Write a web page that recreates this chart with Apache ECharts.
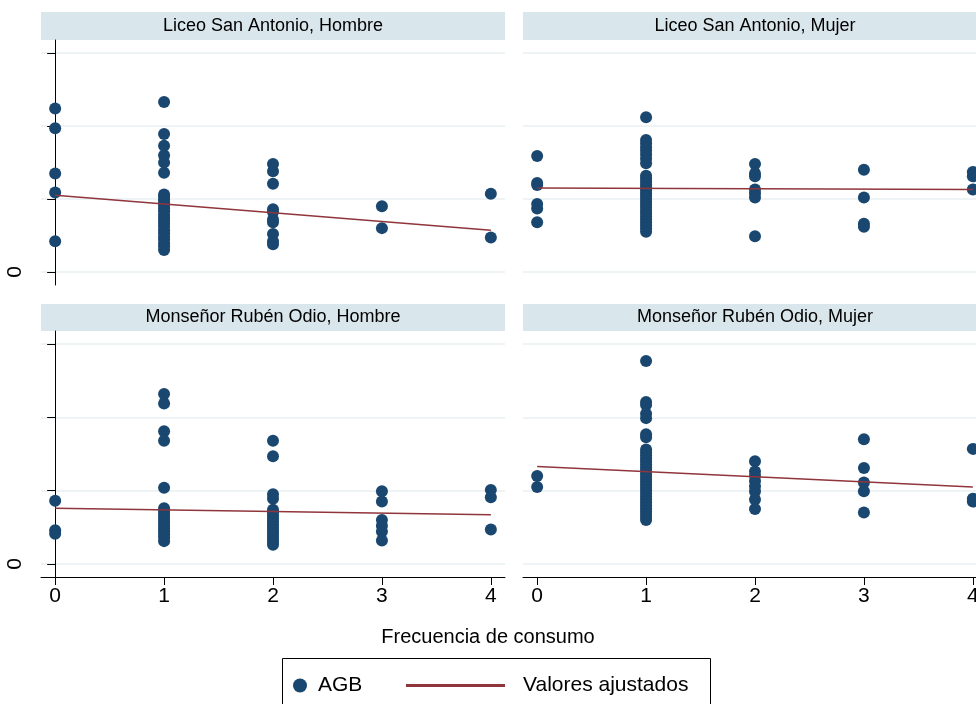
<!DOCTYPE html>
<html><head><meta charset="utf-8">
<script src="https://cdn.jsdelivr.net/npm/echarts@6/dist/echarts.min.js"></script>
<style>html,body{margin:0;padding:0;background:#fff}#c{width:976px;height:704px}</style>
</head><body><div id="c"></div>
<script>
// ---- data ----
const panelTitles = ['Liceo San Antonio, Hombre', 'Liceo San Antonio, Mujer', 'Monseñor Rubén Odio, Hombre', 'Monseñor Rubén Odio, Mujer'];
const xTicks = [0, 1, 2, 3, 4];
const yTicks = [0, 1, 2, 3];
const yLabelTicks = [0];
const xTitle = 'Frecuencia de consumo';
const seriesNames = ['AGB', 'Valores ajustados'];

// AGB values grouped by frecuencia de consumo (0..4)
const lsHombreAGB = [
  [2.24, 1.97, 1.35, 1.09, 0.42],
  [2.33, 1.89, 1.73, 1.60, 1.50, 1.36, 1.06, 1.03, 0.99, 0.95, 0.91, 0.87, 0.83, 0.78, 0.74, 0.70, 0.66, 0.62, 0.57, 0.53, 0.48, 0.44, 0.39, 0.35, 0.30],
  [1.48, 1.38, 1.21, 0.86, 0.82, 0.72, 0.68, 0.52, 0.42, 0.38],
  [0.90, 0.60],
  [1.07, 0.47]
];
const lsMujerAGB = [
  [1.59, 1.22, 1.19, 0.93, 0.87, 0.68],
  [2.12, 1.81, 1.76, 1.71, 1.66, 1.61, 1.55, 1.49, 1.32, 1.28, 1.24, 1.20, 1.16, 1.12, 1.08, 1.04, 1.00, 0.96, 0.92, 0.88, 0.84, 0.80, 0.76, 0.72, 0.68, 0.64, 0.60, 0.55],
  [1.48, 1.35, 1.31, 1.13, 1.08, 1.02, 0.49],
  [1.40, 1.02, 0.66, 0.62],
  [1.37, 1.31, 1.13]
];
const moHombreAGB = [
  [0.86, 0.46, 0.41],
  [2.32, 2.19, 1.81, 1.68, 1.04, 0.76, 0.72, 0.68, 0.64, 0.60, 0.56, 0.52, 0.48, 0.44, 0.40, 0.36, 0.31],
  [1.68, 1.47, 0.95, 0.89, 0.74, 0.70, 0.66, 0.62, 0.58, 0.54, 0.50, 0.46, 0.42, 0.38, 0.34, 0.30, 0.26],
  [0.99, 0.85, 0.60, 0.52, 0.44, 0.32],
  [1.01, 0.91, 0.47]
];
const moMujerAGB = [
  [1.20, 1.05],
  [2.77, 2.21, 2.17, 2.05, 1.99, 1.77, 1.73, 1.56, 1.52, 1.48, 1.44, 1.40, 1.36, 1.32, 1.28, 1.24, 1.20, 1.16, 1.12, 1.08, 1.04, 1.00, 0.96, 0.92, 0.88, 0.84, 0.80, 0.76, 0.72, 0.68, 0.64, 0.60],
  [1.40, 1.26, 1.20, 1.13, 1.06, 0.99, 0.88, 0.75],
  [1.70, 1.31, 1.11, 0.99, 0.70],
  [1.57, 0.89, 0.85]
];
// fitted values at frecuencia 0 and 4
const lsHombreFit = [1.05, 0.57];
const lsMujerFit = [1.15, 1.13];
const moHombreFit = [0.76, 0.67];
const moMujerFit = [1.33, 1.05];

const panelAGB = [lsHombreAGB, lsMujerAGB, moHombreAGB, moMujerAGB];
const panelFit = [lsHombreFit, lsMujerFit, moHombreFit, moMujerFit];

// ---- layout / style ----
const NAVY = '#1a476f', MAROON = '#90353b', STRIP = '#d9e6eb', GRIDC = '#e9f0f2';
const FONT = '"Liberation Sans", Arial, sans-serif';
const boxes = [
  {left: 41, top: 40, width: 464, height: 245, strip: 12},
  {left: 523, top: 40, width: 464, height: 245, strip: 12},
  {left: 41, top: 331, width: 464, height: 246, strip: 304},
  {left: 523, top: 331, width: 464, height: 246, strip: 304}
];

const grids = [], xAxes = [], yAxes = [], series = [], graphics = [];
boxes.forEach((b, i) => {
  const isLeft = i % 2 === 0, isBottom = i >= 2;
  grids.push({left: b.left, top: b.top, width: b.width, height: b.height, containLabel: false, outerBoundsMode: 'none'});
  xAxes.push({
    type: 'value', gridIndex: i, min: -0.13, max: 4.13,
    axisLine: {show: isBottom, onZero: false, lineStyle: {color: '#000', width: 1}},
    axisTick: {show: isBottom, length: 8, customValues: xTicks, lineStyle: {color: '#000', width: 1}},
    axisLabel: {show: isBottom, customValues: xTicks, margin: 9, color: '#000', fontSize: 21, fontFamily: FONT, hideOverlap: false},
    splitLine: {show: false}
  });
  yAxes.push({
    type: 'value', gridIndex: i, min: -0.18, max: 3.18,
    axisLine: {show: isLeft, lineStyle: {color: '#000', width: 1}},
    axisTick: {show: isLeft, length: 8, customValues: yTicks, lineStyle: {color: '#000', width: 1}},
    axisLabel: {show: isLeft, customValues: yLabelTicks, rotate: 90, margin: 15, color: '#000', fontSize: 21, fontFamily: FONT},
    splitLine: {show: true, lineStyle: {color: GRIDC, width: 1.5}}
  });
  const pts = [];
  panelAGB[i].forEach((vals, x) => vals.forEach(v => pts.push([xTicks[x], v])));
  series.push({
    name: seriesNames[0], type: 'scatter', xAxisIndex: i, yAxisIndex: i,
    symbol: 'circle', symbolSize: 12, itemStyle: {color: NAVY, opacity: 1},
    data: pts, z: 2
  });
  series.push({
    name: seriesNames[1], type: 'line', xAxisIndex: i, yAxisIndex: i,
    symbol: 'none', showSymbol: false, lineStyle: {color: MAROON, width: 1.6}, itemStyle: {color: MAROON},
    data: [[xTicks[0], panelFit[i][0]], [xTicks[4], panelFit[i][1]]], z: 3
  });
  graphics.push({
    type: 'rect', shape: {x: b.left, y: b.strip, width: b.width, height: b.top - b.strip},
    style: {fill: STRIP}, silent: true, z: 0
  });
  graphics.push({
    type: 'text', x: b.left + b.width / 2, y: (b.strip + b.top) / 2,
    style: {text: panelTitles[i], fill: '#000', font: '18px ' + FONT, textAlign: 'center', textVerticalAlign: 'middle'},
    silent: true, z: 1
  });
});
// legend box
graphics.push({type: 'rect', shape: {x: 282.5, y: 658.5, width: 428, height: 60},
  style: {fill: '#fff', stroke: '#000', lineWidth: 1}, silent: true, z: -1});

const chart = echarts.init(document.getElementById('c'), null, {renderer: 'canvas'});
chart.setOption({
  animation: false,
  backgroundColor: '#fff',
  textStyle: {fontFamily: FONT},
  grid: grids, xAxis: xAxes, yAxis: yAxes, series: series,
  graphic: graphics,
  title: {text: xTitle, left: 'center', top: 627, textStyle: {fontSize: 20, fontWeight: 'normal', color: '#000', fontFamily: FONT}, padding: 0},
  legend: [
    {data: [{name: seriesNames[0], icon: 'circle'}], left: 293, top: 675, itemWidth: 14, itemHeight: 14, padding: 0,
     textStyle: {fontSize: 21, color: '#000', fontFamily: FONT, padding: [0, 0, 0, 6]}, selectedMode: false},
    {data: [{name: seriesNames[1], icon: 'rect'}], left: 406, top: 675, itemWidth: 99, itemHeight: 3, padding: 0,
     textStyle: {fontSize: 21, color: '#000', fontFamily: FONT, padding: [0, 0, 0, 13]}, selectedMode: false}
  ]
});
</script></body></html>
